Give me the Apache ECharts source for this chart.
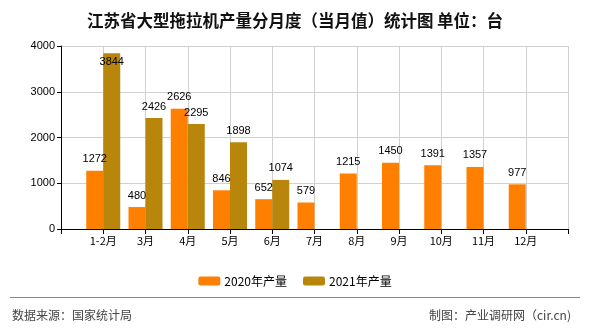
<!DOCTYPE html>
<html><head><meta charset="utf-8">
<script src="https://cdn.jsdelivr.net/npm/echarts@6/dist/echarts.min.js"></script>
<style>html,body{margin:0;padding:0;background:#fff}#c{width:590px;height:330px}</style>
</head><body><div id="c"></div>
<script>
const categories = ['', '1-2月', '3月', '4月', '5月', '6月', '7月', '8月', '9月', '10月', '11月', '12月', ''];
const values2020 = ['-', 1272, 480, 2626, 846, 652, 579, 1215, 1450, 1391, 1357, 977, '-'];
const values2021 = ['-', 3844, 2426, 2295, 1898, 1074, '-', '-', '-', '-', '-', '-', '-'];
const yTicks = [0, 1000, 2000, 3000, 4000];
const seriesNames = ['2020年产量', '2021年产量'];

const chart = echarts.init(document.getElementById('c'), null, {renderer: 'canvas'});
const numFont = {fontFamily: 'Liberation Sans, sans-serif', fontSize: 11, color: '#000'};
const data2021 = values2021.map(v => v === 3844 ? {value: v, label: {position: 'insideTop', distance: 3}} : v);
chart.setOption({
  animation: false,
  title: {
    text: '江苏省大型拖拉机产量分月度（当月值）统计图 单位：台',
    left: 'center', top: 7,
    textStyle: {fontFamily: 'Noto Sans CJK SC', fontSize: 16.5, fontWeight: 'bold', color: '#111'}
  },
  legend: {
    data: seriesNames, left: 'center', top: 270, itemWidth: 22, itemHeight: 9, itemGap: 16,
    textStyle: {fontFamily: 'Noto Sans CJK SC', fontSize: 12, color: '#000', padding: [0, 0, 0, -1]}
  },
  grid: {left: 61, right: 22, top: 46, bottom: 101, containLabel: false},
  xAxis: {
    type: 'category', data: categories, boundaryGap: false,
    axisLine: {lineStyle: {color: '#000', width: 1}},
    axisTick: {show: true, interval: 0, length: 5, lineStyle: {color: '#000'}},
    axisLabel: Object.assign({interval: 0, margin: 6}, numFont, {fontFamily: 'Noto Sans CJK SC'}),
    splitLine: {show: true, interval: 0, lineStyle: {color: '#d0d0d0'}}
  },
  yAxis: {
    type: 'value', min: yTicks[0], max: yTicks[yTicks.length - 1], interval: 1000,
    axisLine: {show: true, lineStyle: {color: '#000', width: 1}},
    axisTick: {show: true, length: 4, lineStyle: {color: '#000'}},
    axisLabel: Object.assign({margin: 6, formatter: v => String(v)}, numFont),
    splitLine: {show: true, lineStyle: {color: '#d0d0d0'}}
  },
  series: [
    {name: seriesNames[0], type: 'bar', data: values2020, barWidth: 17, barGap: '0%',
     itemStyle: {color: '#FF8000'},
     label: Object.assign({show: true, position: 'top', distance: 6}, numFont)},
    {name: seriesNames[1], type: 'bar', data: data2021, barWidth: 17, barGap: '0%',
     itemStyle: {color: '#B8860B'},
     label: Object.assign({show: true, position: 'top', distance: 6}, numFont)}
  ],
  graphic: [
    {type: 'line', shape: {x1: 10, y1: 297.5, x2: 580, y2: 297.5}, style: {stroke: '#888', lineWidth: 1}},
    {type: 'text', left: 12, top: 309, style: {text: '数据来源：国家统计局', font: '12px "Noto Sans CJK SC"', fill: '#444'}},
    {type: 'text', right: 19, top: 309, style: {text: '制图：产业调研网（cir.cn)', font: '12px "Noto Sans CJK SC"', fill: '#444'}}
  ]
});
</script></body></html>
